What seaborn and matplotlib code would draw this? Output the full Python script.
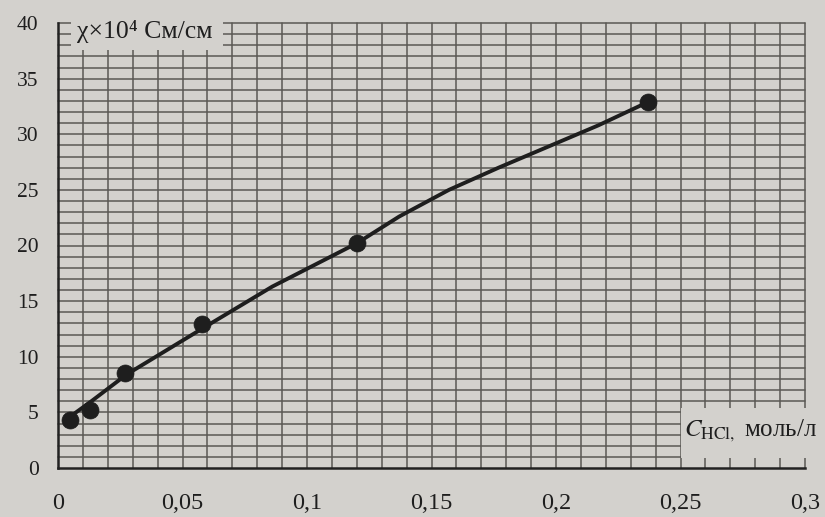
import numpy as np
import pandas as pd
import matplotlib
matplotlib.use("Agg")
import matplotlib.pyplot as plt
from matplotlib.patches import Rectangle
import seaborn as sns

# ---- data ----
c_points = [0.005, 0.013, 0.027, 0.058, 0.120, 0.237]
chi_points = [4.3, 5.2, 8.5, 12.9, 20.2, 32.9]

c_curve = [0.006, 0.0134, 0.0275, 0.0577, 0.086, 0.120, 0.137, 0.157, 0.177, 0.197, 0.217, 0.237]
chi_curve = [4.8, 6.0, 8.4, 12.5, 16.3, 20.2, 22.6, 25.0, 27.0, 28.9, 30.8, 32.9]

x_ticks = [0, 0.05, 0.1, 0.15, 0.2, 0.25, 0.3]
x_tick_labels = ["0", "0,05", "0,1", "0,15", "0,2", "0,25", "0,3"]
y_ticks = [0, 5, 10, 15, 20, 25, 30, 35, 40]
y_tick_labels = ["0", "5", "10", "15", "20", "25", "30", "35", "40"]

y_label = "χ×10⁴ См/см"
x_label = r"$\mathit{C}_{\mathrm{HCl},}$ моль/л"

# ---- style ----
sns.set_theme(style="white")
plt.rcParams["font.family"] = ["Liberation Serif", "DejaVu Serif"]
plt.rcParams["mathtext.fontset"] = "stix"

bg = "#d3d1cd"
grid_col = "#5a5854"
ink = "#1e1e1e"

fig = plt.figure(figsize=(8.25, 5.17), dpi=100, facecolor=bg)
ax = fig.add_axes([58 / 825, 1 - 468 / 517, 747 / 825, 445 / 517])
ax.set_facecolor(bg)
ax.set_xlim(0, 0.3)
ax.set_ylim(0, 40)

# millimetre-paper style grid
for xv in np.arange(0.01, 0.3001, 0.01):
    ax.plot([xv, xv], [0, 40], color=grid_col, lw=1.1, zorder=1, clip_on=False)
for yv in np.arange(1, 40.001, 1):
    ax.plot([0, 0.3], [yv, yv], color=grid_col, lw=1.1, zorder=1, clip_on=False)

# blank areas for the axis titles
ax.add_patch(Rectangle((0.0052, 37.6), 0.0610, 3.0, facecolor=bg, edgecolor="none",
                       zorder=2, clip_on=False))
ax.add_patch(Rectangle((0.2503, 0.92), 0.052, 4.5, facecolor=bg, edgecolor="none",
                       zorder=2, clip_on=False))

df_curve = pd.DataFrame({"c": c_curve, "chi": chi_curve})
df_pts = pd.DataFrame({"c": c_points, "chi": chi_points})
sns.lineplot(data=df_curve, x="c", y="chi", sort=False, estimator=None,
             color=ink, lw=2.8, ax=ax, zorder=4)
sns.scatterplot(data=df_pts, x="c", y="chi", color=ink, s=150,
                edgecolor=ink, linewidth=0.5, ax=ax, zorder=5)

ax.set_xlabel("")
ax.set_ylabel("")
ax.set_xticks(x_ticks)
ax.set_xticklabels(x_tick_labels, fontsize=17.5, color=ink)
ax.set_yticks(y_ticks)
ax.set_yticklabels(y_tick_labels, fontsize=15.5, color=ink)
ax.tick_params(axis="x", direction="out", length=6, width=1.3, color="#222222", pad=12)
ax.tick_params(axis="y", direction="out", length=8, width=1.3, color="#222222", pad=6)

for side in ["top", "right"]:
    ax.spines[side].set_visible(False)
for side in ["left", "bottom"]:
    ax.spines[side].set_color("#222222")
    ax.spines[side].set_linewidth(1.8)
    ax.spines[side].set_zorder(3)

ax.text(0.0075, 39.2, y_label, fontsize=18.5, color=ink, ha="left", va="center", zorder=6)
ax.text(0.2515, 3.3, x_label, fontsize=18, color=ink, ha="left", va="center", zorder=6)

fig.savefig("out.png", dpi=100, facecolor=bg)
